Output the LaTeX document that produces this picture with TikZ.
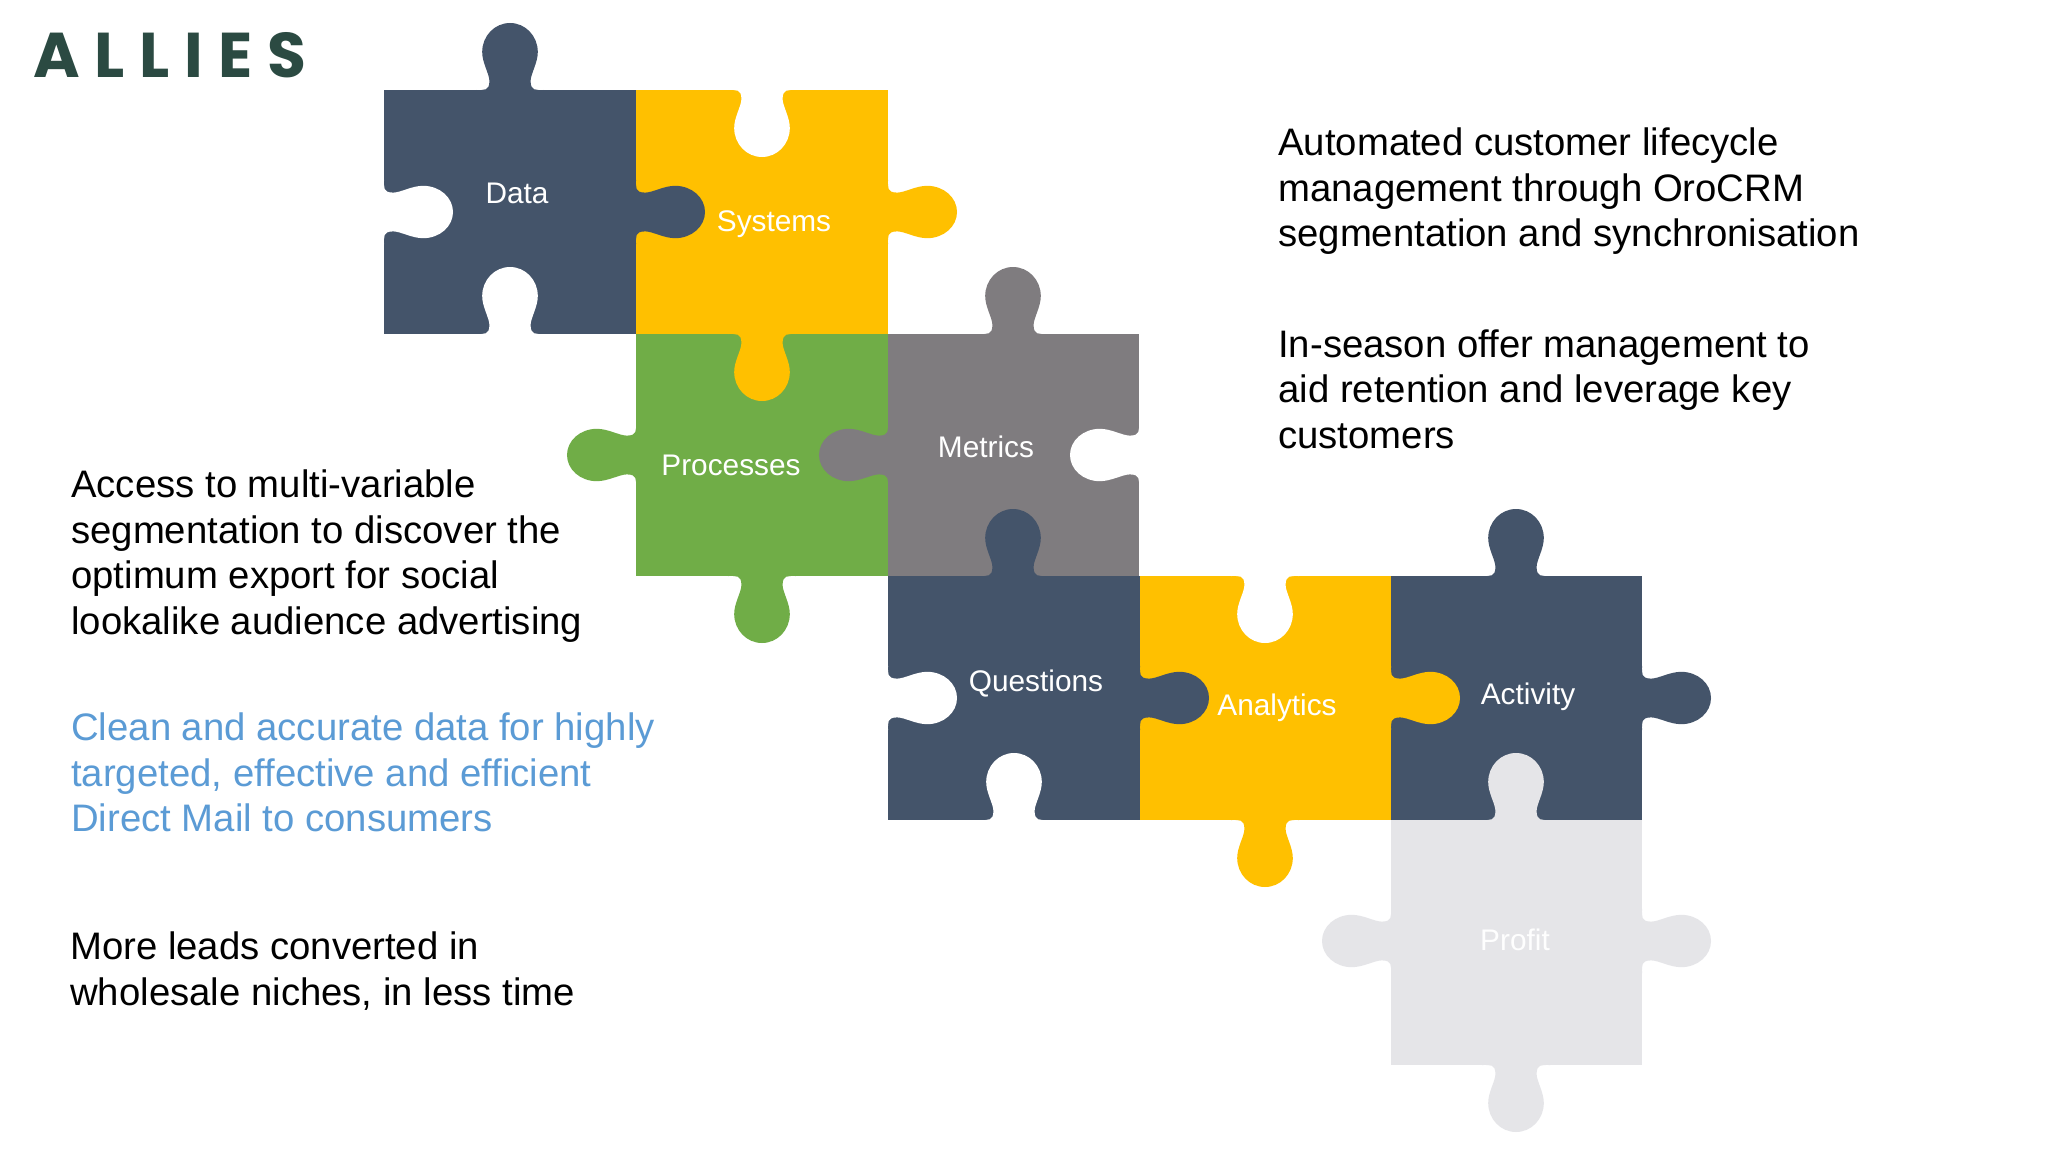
\documentclass[tikz,border=0pt]{standalone}
\usepackage{fontspec}
\setmainfont{Liberation Sans}
\newfontfamily\logofont[LetterSpace=23.5]{Poppins}
\definecolor{navy}{HTML}{44546A}
\definecolor{amber}{HTML}{FFC000}
\definecolor{leaf}{HTML}{70AD47}
\definecolor{slate}{HTML}{7F7C7F}
\definecolor{mist}{HTML}{E5E5E8}
\definecolor{pine}{HTML}{2B4A42}
\definecolor{skyblue}{HTML}{5B9BD5}

\begin{document}
\begin{tikzpicture}[
  x=0.25mm, y=-0.25mm,
  tab/.pic={
    \path[pic actions] (-33,-1) -- (-33,0)
      .. controls (-25,0) and (-20,-1) .. (-20,9)
      .. controls (-20,16) and (-27,27) .. (-27,38)
      .. controls (-27,54) and (-15,67) .. (0,67)
      .. controls (15,67) and (27,54) .. (27,38)
      .. controls (27,27) and (20,16) .. (20,9)
      .. controls (20,-1) and (25,0) .. (33,0)
      -- (33,-1) -- cycle;
  },
  tabdown/.style={xscale=1.03, yscale=1.0},
  tabup/.style={rotate=180, xscale=1.03, yscale=1.0},
  tabright/.style={rotate=90, xscale=0.97, yscale=1.03},
  tableft/.style={rotate=270, xscale=0.97, yscale=1.03},
  hole/.style={fill=white},
  piecelabel/.style={text=white, inner sep=0pt, font=\fontsize{21.2}{25}\selectfont},
  bodytext/.style={anchor=north west, inner sep=0pt, align=left, font=\fontsize{27.25}{32.7}\selectfont}
]

\fill[white] (0,0) rectangle (2048,1152);
\useasboundingbox (0,0) rectangle (2048,1152);

% Logo
\node[anchor=west, inner sep=0pt, text=pine, font=\fontsize{45}{45}\selectfont\logofont\bfseries] (logo) at (33,55) {ALLIES};

% Piece bodies
\fill[navy]  (384,90)   rectangle (636,334);
\fill[amber] (636,90)   rectangle (888,334);
\fill[leaf]  (636,334)  rectangle (888,576);
\fill[slate] (888,334)  rectangle (1139,576);
\fill[navy]  (888,576)  rectangle (1140,820);
\fill[amber] (1140,576) rectangle (1391,820);
\fill[navy]  (1391,576) rectangle (1642,820);
\fill[mist]  (1391,820) rectangle (1642,1065);

% Holes
\pic[hole, tabright] at (384,212) {tab};
\pic[hole, tabup] at (510,334) {tab};
\pic[hole, tabdown] at (762,90) {tab};
\pic[hole, tableft] at (1139,455) {tab};
\pic[hole, tabright] at (888,698) {tab};
\pic[hole, tabup] at (1014,820) {tab};
\pic[hole, tabdown] at (1265,576) {tab};

% Tabs
\pic[fill=navy, tabup] at (510,90) {tab};
\pic[fill=navy, tabright] at (636,212) {tab};
\pic[fill=amber, tabright] at (888,212) {tab};
\pic[fill=amber, tabdown] at (762,334) {tab};
\pic[fill=leaf, tableft] at (636,455) {tab};
\pic[fill=leaf, tabdown] at (762,576) {tab};
\pic[fill=slate, tabup] at (1013,334) {tab};
\pic[fill=slate, tableft] at (888,455) {tab};
\pic[fill=navy, tabup] at (1013,576) {tab};
\pic[fill=navy, tabright] at (1140,698) {tab};
\pic[fill=amber, tabright] at (1391,698) {tab};
\pic[fill=amber, tabdown] at (1265,820) {tab};
\pic[fill=navy, tabup] at (1516,576) {tab};
\pic[fill=navy, tabright] at (1642,698) {tab};
\pic[fill=mist, tabup] at (1516,820) {tab};
\pic[fill=mist, tableft] at (1391,941) {tab};
\pic[fill=mist, tabright] at (1642,941) {tab};
\pic[fill=mist, tabdown] at (1516,1065) {tab};

% Piece labels
\node[piecelabel] (data) at (517,193) {Data};
\node[piecelabel] (systems) at (774,224) {Systems};
\node[piecelabel] (processes) at (731,465) {Processes};
\node[piecelabel] (metrics) at (986,447) {Metrics};
\node[piecelabel] (questions) at (1036,684) {Questions};
\node[piecelabel] (analytics) at (1277,708) {Analytics};
\node[piecelabel] (activity) at (1528,697) {Activity};
\node[piecelabel, text=white!97!mist] (profit) at (1515,940) {Profit};

% Right column
\node[bodytext] (lifecycle) at (1278,127) {Automated customer lifecycle\\management through OroCRM\\segmentation and synchronisation};
\node[bodytext] (inseason) at (1278,329) {In-season offer management to\\aid retention and leverage key\\customers};

% Left column
\node[bodytext] (lookalike) at (71,469) {Access to multi-variable\\segmentation to discover the\\optimum export for social\\lookalike audience advertising};
\node[bodytext, text=skyblue] (directmail) at (71,712) {Clean and accurate data for highly\\targeted, effective and efficient\\Direct Mail to consumers};
\node[bodytext] (wholesale) at (70,931) {More leads converted in\\wholesale niches, in less time};

\end{tikzpicture}
\end{document}
